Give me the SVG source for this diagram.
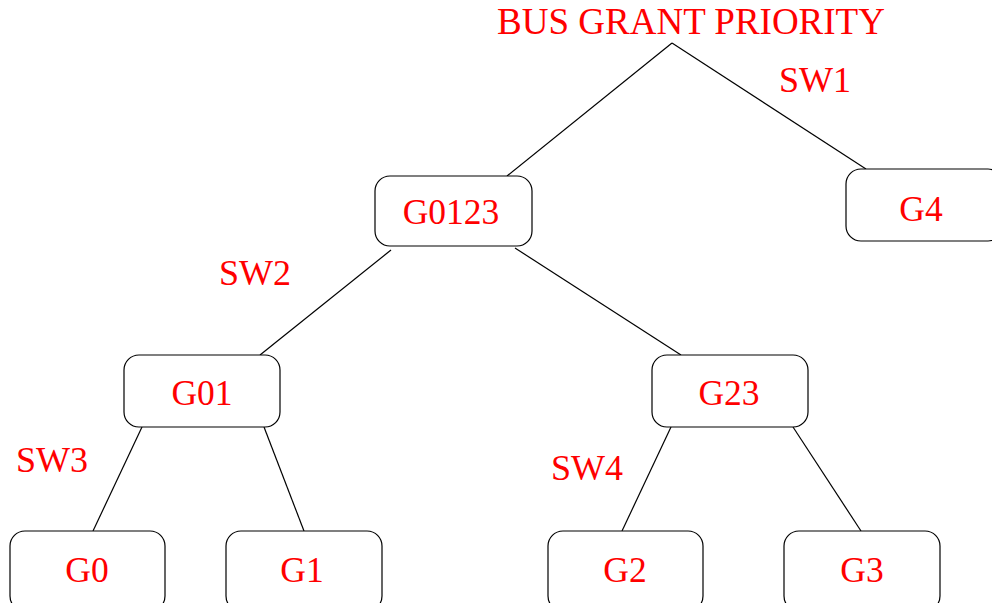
<svg xmlns="http://www.w3.org/2000/svg" width="992" height="603" viewBox="0 0 992 603">
<style>
.box{fill:#fff;stroke:#000;stroke-width:1.2}
.t{font-family:"Liberation Serif",serif;font-size:35.5px;fill:#ff0000;text-anchor:middle}
.sw{font-family:"Liberation Serif",serif;font-size:36px;fill:#ff0000}
.c line{stroke:#000;stroke-width:1.2}
</style>
<rect width="992" height="603" fill="#fff"/>
<g class="c" id="connectors">
<line x1="672" y1="43" x2="507" y2="176"/>
<line x1="672" y1="43" x2="866" y2="169"/>
<line x1="391" y1="250" x2="260" y2="355"/>
<line x1="515" y1="248" x2="681" y2="355"/>
<line x1="142" y1="427" x2="93" y2="531"/>
<line x1="264" y1="427" x2="304" y2="531"/>
<line x1="671" y1="427" x2="622" y2="531"/>
<line x1="793" y1="427" x2="861" y2="531"/>
</g>
<g id="title"><text class="t" x="691" y="34" style="font-size:37px">BUS GRANT PRIORITY</text></g>
<g id="G0123"><rect class="box" x="375" y="176" width="157" height="70" rx="15"/><text class="t" x="451" y="224">G0123</text></g>
<g id="G4"><rect class="box" x="846" y="169" width="157" height="72" rx="15"/><text class="t" x="921" y="221">G4</text></g>
<g id="G01"><rect class="box" x="124" y="355" width="156" height="72" rx="15"/><text class="t" x="202" y="405">G01</text></g>
<g id="G23"><rect class="box" x="652" y="355" width="156" height="72" rx="15"/><text class="t" x="729" y="405">G23</text></g>
<g id="G0"><rect class="box" x="10" y="531" width="155" height="80" rx="15"/><text class="t" x="87" y="582">G0</text></g>
<g id="G1"><rect class="box" x="226" y="531" width="156" height="80" rx="15"/><text class="t" x="302" y="582">G1</text></g>
<g id="G2"><rect class="box" x="548" y="531" width="155" height="80" rx="15"/><text class="t" x="625" y="582">G2</text></g>
<g id="G3"><rect class="box" x="784" y="531" width="156" height="80" rx="15"/><text class="t" x="862" y="582">G3</text></g>
<g id="labels">
<text class="sw" x="779" y="92">SW1</text>
<text class="sw" x="219" y="285">SW2</text>
<text class="sw" x="16" y="472">SW3</text>
<text class="sw" x="551" y="480">SW4</text>
</g>
</svg>
